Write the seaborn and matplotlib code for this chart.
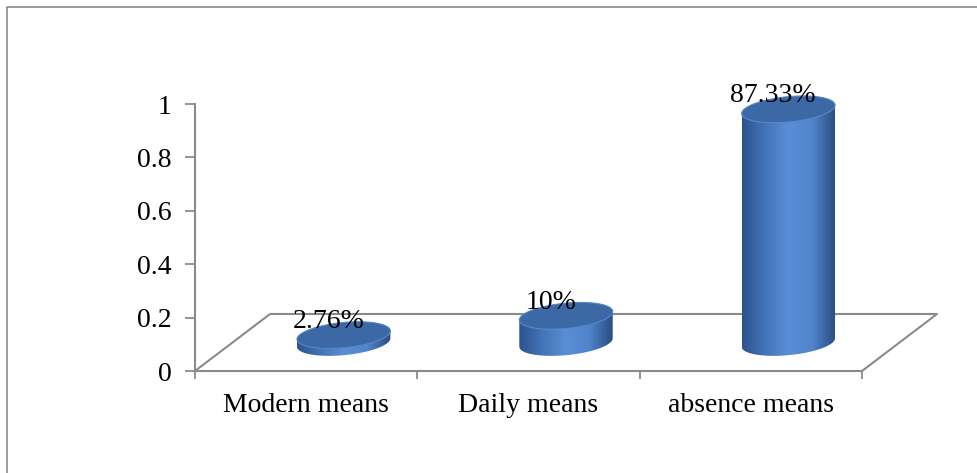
import numpy as np
import matplotlib
matplotlib.use("Agg")
import matplotlib.pyplot as plt
import seaborn as sns
from matplotlib.patches import Polygon
from matplotlib.colors import LinearSegmentedColormap
from matplotlib.lines import Line2D

categories = ['Modern means', 'Daily means', 'absence means']
values = [0.0276, 0.10, 0.8733]
value_labels = ['2.76%', '10%', '87.33%']
y_ticks = [0, 0.2, 0.4, 0.6, 0.8, 1]
y_tick_labels = ['0', '0.2', '0.4', '0.6', '0.8', '1']

sns.set_theme(style="white")
plt.rcParams['font.family'] = ['Liberation Serif', 'DejaVu Serif']
plt.rcParams['text.color'] = 'black'

W, H = 978, 473
fig = plt.figure(figsize=(W / 100, H / 100), dpi=100)
ax = fig.add_axes([195 / W, (H - 371) / H, (862 - 195) / W, (371 - 104) / H])

# fake 3d floor depth, in category / value units
depth_x = 75 / 222.3
depth_y = 57 / 267
bar_w = 0.42
ell_h = 0.095
skew = 0.075   # caps lean up to the right
grey = '#8a8a8a'
fs = 20

cyl_cmap = LinearSegmentedColormap.from_list(
    'cyl', ['#2b538c', '#4474b8', '#5a8ed6', '#5084cb', '#2a4c80'])
grad = np.linspace(0, 1, 256).reshape(1, -1)


def cap(cx, cy, t):
    dx = bar_w / 2 * np.cos(t)
    return np.column_stack([cx + dx, cy + ell_h / 2 * np.sin(t) + skew * dx])


sns.barplot(x=categories, y=values, ax=ax, width=bar_w, color='#4f81bd',
            saturation=1, zorder=3)

for i, (p, v, lab) in enumerate(zip(ax.patches, values, value_labels)):
    x0 = p.get_x() + depth_x / 2
    base = depth_y / 2
    p.set_visible(False)
    cx = x0 + bar_w / 2

    # cylinder outline: lower half of bottom cap + upper half of top cap
    lower = cap(cx, base, np.linspace(np.pi, 2 * np.pi, 60))
    upper = cap(cx, base + v, np.linspace(0, np.pi, 60))
    body = Polygon(np.vstack([lower, upper]), closed=True, fc='none',
                   ec='none', clip_on=False)
    ax.add_patch(body)
    im = ax.imshow(grad, cmap=cyl_cmap, aspect='auto', zorder=3,
                   extent=(x0, x0 + bar_w, base - ell_h, base + v + ell_h))
    im.set_clip_path(body)
    im.clipbox = None

    # top cap
    top = Polygon(cap(cx, base + v, np.linspace(0, 2 * np.pi, 120)),
                  closed=True, fc='#3c69a6', ec='#5787c9', lw=0.8, zorder=5,
                  clip_on=False)
    ax.add_patch(top)

    ax.text(i + depth_x / 4 + 0.015, base + v + 0.05, lab, ha='center',
            va='center', fontsize=fs, color='black', zorder=6, clip_on=False)

# floor outline
ax.plot([-0.5, -0.5 + depth_x, 2.5 + depth_x, 2.5], [0, depth_y, depth_y, 0],
        color=grey, lw=1.5, clip_on=False, zorder=1)

ax.set_xlim(-0.5, 2.5)
ax.set_ylim(0, 1)
for s in ['top', 'right']:
    ax.spines[s].set_visible(False)
for s in ['left', 'bottom']:
    ax.spines[s].set_color(grey)
    ax.spines[s].set_linewidth(1.5)

ax.set_yticks(y_ticks, y_tick_labels)
ax.tick_params(axis='y', length=7, width=1.3, color=grey, labelsize=fs,
               labelcolor='black', pad=10, left=True)
ax.set_xticks(range(len(categories)), categories)
ax.set_xticks([-0.5, 0.5, 1.5, 2.5], minor=True)
ax.tick_params(axis='x', which='major', length=0, labelsize=fs,
               labelcolor='black', pad=16)
ax.tick_params(axis='x', which='minor', length=6, width=1.3, color=grey,
               bottom=True, direction='out')
ax.set_xlabel('')
ax.set_ylabel('')

# outer chart border (top and left visible)
fig.add_artist(Line2D([7 / W, 7 / W, 1], [0, 1 - 7 / H, 1 - 7 / H],
                      transform=fig.transFigure, color=grey, lw=1.2))

fig.savefig('out.png', dpi=100)
